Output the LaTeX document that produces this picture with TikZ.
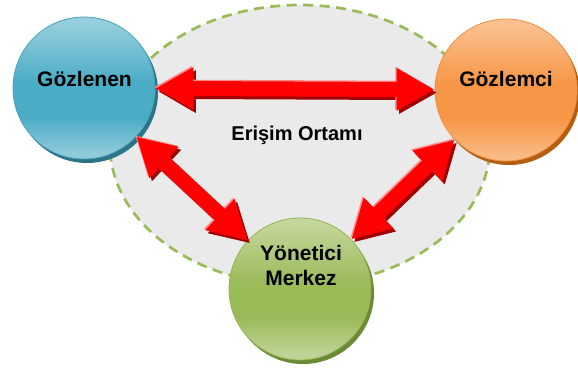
\documentclass[tikz,border=0pt]{standalone}
\usepackage{fontspec}
\setmainfont{Liberation Sans}
\usetikzlibrary{arrows.meta,shapes.geometric}

\definecolor{bluetop}{HTML}{95CEDD}
\definecolor{bluemid}{HTML}{4BACC6}
\definecolor{bluebot}{HTML}{8FCADA}
\definecolor{blueedge}{HTML}{4AA3BC}
\definecolor{blueshade}{HTML}{2D7487}
\definecolor{orangetop}{HTML}{FAC08F}
\definecolor{orangemid}{HTML}{F79646}
\definecolor{orangebot}{HTML}{F9BA84}
\definecolor{orangeedge}{HTML}{F0903F}
\definecolor{orangeshade}{HTML}{B35E10}
\definecolor{greentop}{HTML}{C3D69B}
\definecolor{greenmid}{HTML}{9BBB59}
\definecolor{greenbot}{HTML}{BED497}
\definecolor{greenedge}{HTML}{94B452}
\definecolor{greenshade}{HTML}{6C8A36}
\definecolor{zonefill}{HTML}{EAEAEA}
\definecolor{zoneedge}{HTML}{9BBB59}
\definecolor{arrowred}{HTML}{FF0000}
\definecolor{arrowdark}{HTML}{A00000}
\definecolor{arrowlight}{HTML}{FF8A8A}

% glossy ball shadings: 25bp = bottom of the shape, 75bp = top
\pgfdeclareverticalshading{blueball}{100bp}{color(0bp)=(bluebot); color(27bp)=(bluebot);
  color(40bp)=(bluemid); color(52bp)=(bluemid); color(73bp)=(bluetop); color(100bp)=(bluetop)}
\pgfdeclareverticalshading{orangeball}{100bp}{color(0bp)=(orangebot); color(27bp)=(orangebot);
  color(40bp)=(orangemid); color(52bp)=(orangemid); color(73bp)=(orangetop); color(100bp)=(orangetop)}
\pgfdeclareverticalshading{greenball}{100bp}{color(0bp)=(greenbot); color(27bp)=(greenbot);
  color(40bp)=(greenmid); color(52bp)=(greenmid); color(73bp)=(greentop); color(100bp)=(greentop)}

\tikzset{
  party/.style args={#1/#2/#3}{
    circle, minimum size=142pt, inner sep=0pt,
    preaction={fill=#3, transform canvas={shift={(3pt,-4pt)}}},
    shading=#1, draw=#2, line width=0.8pt},
  caption/.style={anchor=base, font=\bfseries\fontsize{21}{25}\selectfont,
    align=center, inner sep=0pt},
  bar/.style={line width=15pt,
    {Triangle[width=40pt,length=38pt]}-{Triangle[width=40pt,length=38pt]}},
}

% three-layer block arrow: dark shadow, light rim, red body
\newcommand{\blockarrow}[2]{%
  \draw[bar, arrowdark, transform canvas={shift={(2.5pt,-3pt)}}] (#1) -- (#2);
  \draw[bar, arrowlight, transform canvas={shift={(-1.3pt,1.3pt)}}] (#1) -- (#2);
  \draw[bar, arrowred] (#1) -- (#2);
}

\begin{document}
\begin{tikzpicture}[x=1pt,y=-1pt]
  \useasboundingbox (0,0) rectangle (578,370);

  % shared medium
  \node (zone) [ellipse, minimum width=380pt, minimum height=280pt, inner sep=0pt,
    fill=zonefill, draw=zoneedge, line width=2.7pt,
    dash pattern=on 10pt off 6.5pt] at (300,145) {};
  \node (zonetxt) [caption, font=\bfseries\fontsize{20}{24}\selectfont] at (297,140) {Erişim Ortamı};

  % parties
  \node (obs)  [party=blueball/blueedge/blueshade] at (84,88) {};
  \node (mon)  [party=orangeball/orangeedge/orangeshade] at (506,90) {};
  \node (ctrl) [party=greenball/greenedge/greenshade] at (300,289) {};

  \node (obstxt)  [caption] at (84.5,86) {Gözlenen};
  \node (montxt)  [caption] at (506,86) {Gözlemci};
  \node (ctrltxt) [caption] at (301,285) {Yönetici\\Merkez};

  % links
  \blockarrow{obs}{mon}
  \blockarrow{obs}{ctrl}
  \blockarrow{mon}{ctrl}
\end{tikzpicture}
\end{document}
